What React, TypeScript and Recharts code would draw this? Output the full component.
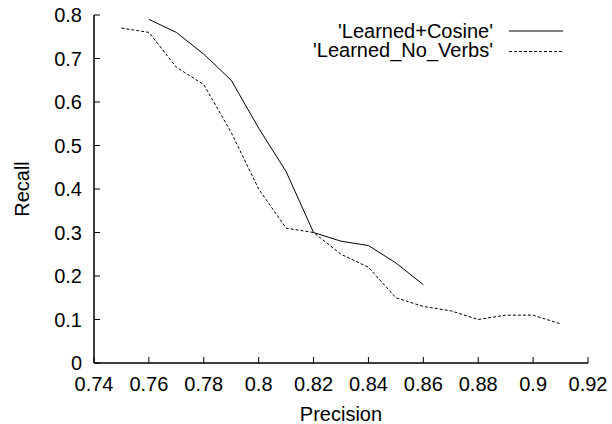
import { Legend, Line, LineChart, XAxis, YAxis } from 'recharts';

const cosinePrecision = [0.76, 0.77, 0.78, 0.79, 0.8, 0.81, 0.82, 0.83, 0.84, 0.85, 0.86];
const cosineRecall = [0.79, 0.76, 0.71, 0.65, 0.54, 0.44, 0.3, 0.28, 0.27, 0.23, 0.18];

const noVerbsPrecision = [
  0.75, 0.76, 0.77, 0.78, 0.79, 0.8, 0.81, 0.82, 0.83, 0.84, 0.85, 0.86, 0.87, 0.88, 0.89, 0.9, 0.91
];
const noVerbsRecall = [
  0.77, 0.76, 0.68, 0.64, 0.53, 0.4, 0.31, 0.3, 0.25, 0.22, 0.15, 0.13, 0.12, 0.1, 0.11, 0.11, 0.09
];

const xTicks = [0.74, 0.76, 0.78, 0.8, 0.82, 0.84, 0.86, 0.88, 0.9, 0.92];
const yTicks = [0, 0.1, 0.2, 0.3, 0.4, 0.5, 0.6, 0.7, 0.8];

const seriesNames = ["'Learned+Cosine'", "'Learned_No_Verbs'"];

const cosineData = cosinePrecision.map((p, i) => ({ precision: p, recall: cosineRecall[i] }));
const noVerbsData = noVerbsPrecision.map((p, i) => ({ precision: p, recall: noVerbsRecall[i] }));

const FONT = '"Liberation Sans", Arial, Helvetica, sans-serif';
const FS = 20;
const TICK = 6;
const dashes: Record<string, string | undefined> = {
  [seriesNames[0]]: undefined,
  [seriesNames[1]]: '3 2'
};

const BottomTick = ({ x, y, payload }: any) => (
  <g>
    <line x1={x} x2={x} y1={y} y2={y - TICK} stroke="#000" />
    <text x={x} y={y + 28} textAnchor="middle" fontSize={FS} fontFamily={FONT} fill="#000">
      {String(payload.value)}
    </text>
  </g>
);

const TopTick = ({ x, y }: any) => <line x1={x} x2={x} y1={y} y2={y + TICK} stroke="#000" />;

const LeftTick = ({ x, y, payload }: any) => (
  <g>
    <line x1={x} x2={x + TICK} y1={y} y2={y} stroke="#000" />
    <text x={x - 12} y={y + 7} textAnchor="end" fontSize={FS} fontFamily={FONT} fill="#000">
      {String(payload.value)}
    </text>
  </g>
);

const RightTick = ({ x, y }: any) => <line x1={x} x2={x - TICK} y1={y} y2={y} stroke="#000" />;

const PrecisionLabel = ({ viewBox }: any) => (
  <text
    x={viewBox.x + viewBox.width / 2}
    y={421}
    textAnchor="middle"
    fontSize={FS}
    fontFamily={FONT}
    fill="#000"
  >
    Precision
  </text>
);

const RecallLabel = ({ viewBox }: any) => {
  const cy = viewBox.y + viewBox.height / 2;
  return (
    <text
      x={22}
      y={cy}
      dy="0.35em"
      transform={`rotate(-90, 22, ${cy})`}
      textAnchor="middle"
      fontSize={FS}
      fontFamily={FONT}
      fill="#000"
    >
      Recall
    </text>
  );
};

const KeyBox = ({ payload }: any) => (
  <svg width={612} height={70}>
    {(payload || []).map((entry: any, i: number) => (
      <g key={entry.value}>
        <text
          x={493}
          y={37.5 + i * 19.5}
          textAnchor="end"
          fontSize={FS}
          fontFamily={FONT}
          fill="#000"
        >
          {entry.value}
        </text>
        <line
          x1={509}
          x2={563}
          y1={31 + i * 20.5}
          y2={31 + i * 20.5}
          stroke="#000"
          strokeDasharray={dashes[entry.value]}
        />
      </g>
    ))}
  </svg>
);

export default function App() {
  return (
    <div style={{ position: 'absolute', left: 0, top: 0 }}>
      <LineChart
        width={612}
        height={424}
        margin={{ top: 15, right: 24, bottom: 0, left: 0 }}
        style={{ fontFamily: FONT, background: '#fff' }}
      >
        <XAxis
          type="number"
          dataKey="precision"
          domain={[0.74, 0.92]}
          ticks={xTicks}
          interval={0}
          height={61}
          tickSize={0}
          tickMargin={0}
          tick={<BottomTick />}
          axisLine={{ stroke: '#000', strokeWidth: 1.5 }}
          label={<PrecisionLabel />}
        />
        <XAxis
          xAxisId="top"
          orientation="top"
          type="number"
          domain={[0.74, 0.92]}
          ticks={xTicks}
          interval={0}
          height={0}
          tickSize={0}
          tickMargin={0}
          tick={<TopTick />}
          axisLine={{ stroke: '#000', strokeWidth: 1.5 }}
        />
        <YAxis
          type="number"
          domain={[0, 0.8]}
          ticks={yTicks}
          interval={0}
          width={94}
          tickSize={0}
          tickMargin={0}
          tick={<LeftTick />}
          axisLine={{ stroke: '#000', strokeWidth: 1.5 }}
          label={<RecallLabel />}
        />
        <YAxis
          yAxisId="right"
          orientation="right"
          type="number"
          domain={[0, 0.8]}
          ticks={yTicks}
          interval={0}
          width={0}
          tickSize={0}
          tickMargin={0}
          tick={<RightTick />}
          axisLine={{ stroke: '#000', strokeWidth: 1.5 }}
        />
        <Legend
          layout="horizontal"
          verticalAlign="middle"
          align="center"
          wrapperStyle={{ top: 0, left: 0, width: 612, height: 70 }}
          content={<KeyBox />}
        />
        <Line
          data={cosineData}
          dataKey="recall"
          name={seriesNames[0]}
          stroke="#000"
          strokeWidth={1}
          dot={false}
          activeDot={false}
          isAnimationActive={false}
        />
        <Line
          data={noVerbsData}
          dataKey="recall"
          name={seriesNames[1]}
          stroke="#000"
          strokeWidth={1}
          strokeDasharray="3 2"
          dot={false}
          activeDot={false}
          isAnimationActive={false}
        />
      </LineChart>
    </div>
  );
}
